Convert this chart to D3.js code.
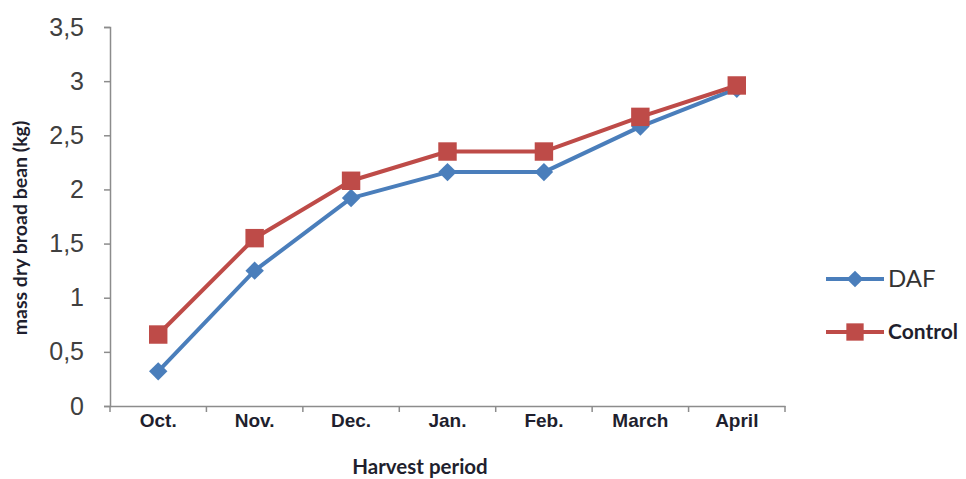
<!DOCTYPE html>
<html>
<head>
<meta charset="utf-8">
<script src="https://cdn.jsdelivr.net/npm/d3@7"></script>
<style>
  body { margin: 0; background: #fff; }
  svg { font-family: Lato, "Open Sans", sans-serif; }
</style>
</head>
<body>
<svg id="chart" width="966" height="479"></svg>
<script>
const months = ["Oct.", "Nov.", "Dec.", "Jan.", "Feb.", "March", "April"];
const dafValues = [0.32, 1.25, 1.92, 2.16, 2.16, 2.58, 2.93];
const controlValues = [0.66, 1.55, 2.08, 2.35, 2.35, 2.67, 2.96];
const yTicks = [0, 0.5, 1, 1.5, 2, 2.5, 3, 3.5];

const svg = d3.select("#chart");
const margin = {left: 110, top: 27, right: 181, bottom: 73};
const width = 966 - margin.left - margin.right;
const height = 479 - margin.top - margin.bottom;

const g = svg.append("g").attr("transform", `translate(${margin.left},${margin.top})`);

const x = d3.scaleBand().domain(months).range([0, width]);
const y = d3.scaleLinear().domain([0, 3.5]).range([height, 0]);

// y axis
const yAxis = g.append("g")
	.call(d3.axisLeft(y).tickValues(yTicks).tickSize(6).tickPadding(20)
		.tickFormat(d => String(d).replace(".", ",")));
yAxis.select(".domain").attr("stroke", "#8c8c8c").attr("stroke-width", 1.5);
yAxis.selectAll(".tick line").attr("stroke", "#8c8c8c").attr("stroke-width", 1.5);
yAxis.selectAll(".tick text").attr("fill", "#404040").style("font-size", "25px");

// x axis
const xAxis = g.append("g")
	.attr("transform", `translate(0,${height})`)
	.call(d3.axisBottom(x).tickSize(0).tickPadding(8));
xAxis.select(".domain").attr("stroke", "#8c8c8c").attr("stroke-width", 1.5);
xAxis.selectAll(".tick text")
	.attr("fill", "#1f1f2e")
	.style("font-size", "19px")
	.style("font-weight", "bold");
xAxis.selectAll(".boundary")
	.data(d3.range(months.length + 1))
	.enter()
	.append("line")
	.attr("class", "boundary")
	.attr("x1", i => i * x.step())
	.attr("x2", i => i * x.step())
	.attr("y1", 0)
	.attr("y2", 6)
	.attr("stroke", "#8c8c8c")
	.attr("stroke-width", 1.5);

// axis titles
svg.append("text")
	.attr("transform", `translate(20,${228}) rotate(-90)`)
	.attr("text-anchor", "middle")
	.attr("dy", "0.35em")
	.attr("fill", "#1f1f2e")
	.style("font-size", "19.5px")
	.style("font-weight", "bold")
	.text("mass dry broad bean (kg)");

svg.append("text")
	.attr("x", 420)
	.attr("y", 474)
	.attr("text-anchor", "middle")
	.attr("fill", "#1f1f2e")
	.style("font-size", "20.5px")
	.style("font-weight", "bold")
	.text("Harvest period");

const series = [
	{name: "DAF", values: dafValues, color: "#4a7ebb", diamond: true},
	{name: "Control", values: controlValues, color: "#be4b48", diamond: false}
];

const line = d3.line()
	.x((_, i) => x(months[i]) + x.bandwidth() / 2)
	.y(d => y(d));

// both markers are squares; the DAF one is turned 45 degrees
function marker(sel, s, size) {
	sel.attr("d", d3.symbol().type(d3.symbolSquare).size(size))
		.attr("fill", s.color);
}

series.forEach(s => {
	g.append("path")
		.attr("d", line(s.values))
		.attr("fill", "none")
		.attr("stroke", s.color)
		.attr("stroke-width", 4)
		.attr("stroke-linejoin", "round");
	g.selectAll(null)
		.data(s.values)
		.enter()
		.append("path")
		.call(marker, s, s.diamond ? 170 : 340)
		.attr("transform", (d, i) => `translate(${x(months[i]) + x.bandwidth() / 2},${y(d)})${s.diamond ? " rotate(45)" : ""}`);
});

// legend
const legend = svg.append("g");
const legendRows = [
	{s: series[0], y: 279, size: "24px", weight: "normal", fill: "#333"},
	{s: series[1], y: 332, size: "21px", weight: "bold", fill: "#1f1f2e"}
];
legendRows.forEach(r => {
	legend.append("line")
		.attr("x1", 826).attr("x2", 884)
		.attr("y1", r.y).attr("y2", r.y)
		.attr("stroke", r.s.color).attr("stroke-width", 4);
	legend.append("path")
		.call(marker, r.s, r.s.diamond ? 140 : 300)
		.attr("transform", `translate(855,${r.y})${r.s.diamond ? " rotate(45)" : ""}`);
	legend.append("text")
		.attr("x", 888).attr("y", r.y)
		.attr("dy", "0.35em")
		.attr("fill", r.fill)
		.style("font-size", r.size)
		.style("font-weight", r.weight)
		.text(r.s.name);
});
</script>
</body>
</html>
